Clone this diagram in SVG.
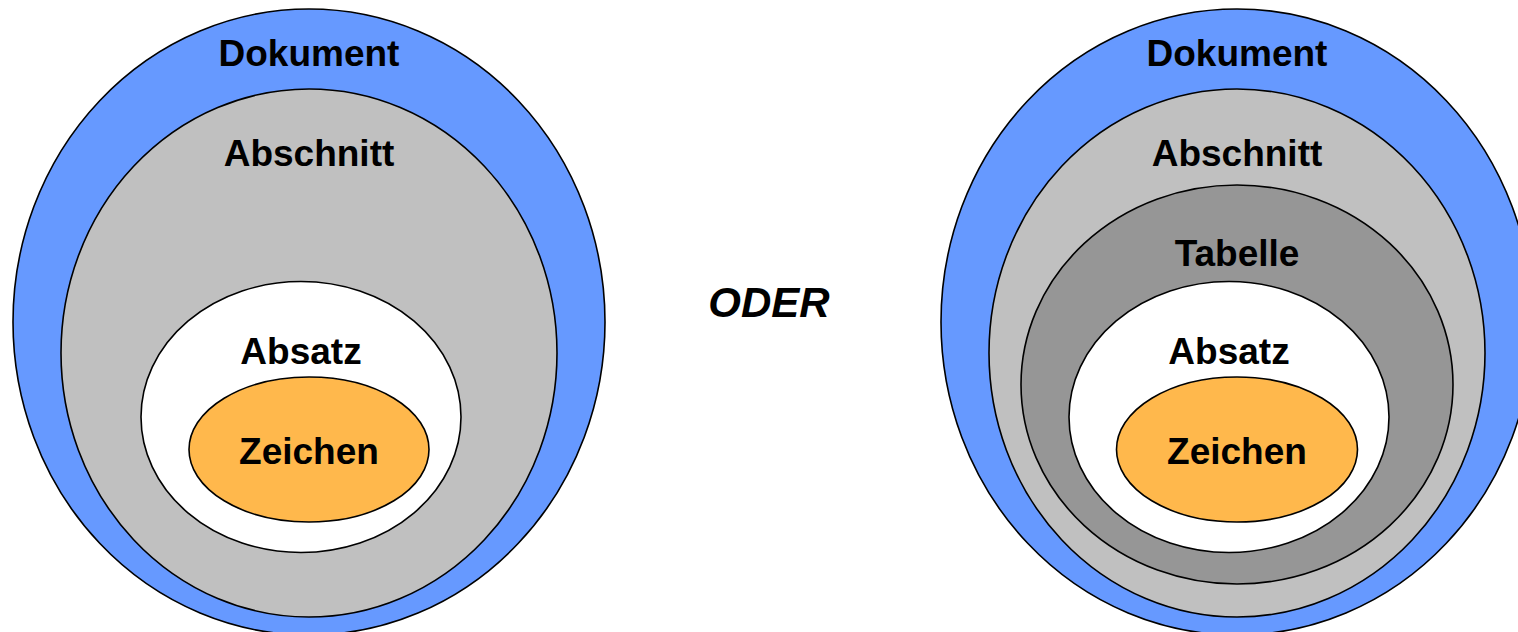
<svg xmlns="http://www.w3.org/2000/svg" width="1518" height="632" viewBox="0 0 1518 632">
  <style>
    .shape { stroke: #000; stroke-width: 1.6; }
    .dok { fill: #6699FF; }
    .abs { fill: #C0C0C0; }
    .tab { fill: #969696; }
    .sat { fill: #FFFFFF; }
    .zei { fill: #FFB84C; }
    .lbl { font-family: "Liberation Sans", Arial, sans-serif; font-weight: bold; font-size: 37px; fill: #000; text-anchor: middle; }
    .oder { font-family: "Liberation Sans", Arial, sans-serif; font-weight: bold; font-style: italic; font-size: 42px; fill: #000; text-anchor: middle; }
  </style>
  <rect width="1518" height="632" fill="#FFFFFF"/>

  <!-- Left diagram -->
  <g id="left-dokument">
    <ellipse class="shape dok" cx="309" cy="322" rx="296" ry="313"/>
    <text class="lbl" x="309" y="66">Dokument</text>
  </g>
  <g id="left-abschnitt">
    <ellipse class="shape abs" cx="309" cy="353" rx="248" ry="264"/>
    <text class="lbl" x="309" y="166">Abschnitt</text>
  </g>
  <g id="left-absatz">
    <ellipse class="shape sat" cx="301" cy="417" rx="160" ry="135.5"/>
    <text class="lbl" x="301" y="364">Absatz</text>
  </g>
  <g id="left-zeichen">
    <ellipse class="shape zei" cx="309" cy="449.5" rx="120" ry="72.5"/>
    <text class="lbl" x="309" y="464">Zeichen</text>
  </g>

  <!-- Middle label -->
  <g id="oder">
    <text class="oder" x="769" y="317">ODER</text>
  </g>

  <!-- Right diagram -->
  <g id="right-dokument">
    <ellipse class="shape dok" cx="1237" cy="322" rx="296" ry="313"/>
    <text class="lbl" x="1237" y="66">Dokument</text>
  </g>
  <g id="right-abschnitt">
    <ellipse class="shape abs" cx="1237" cy="353" rx="248" ry="264"/>
    <text class="lbl" x="1237" y="166">Abschnitt</text>
  </g>
  <g id="right-tabelle">
    <ellipse class="shape tab" cx="1237" cy="384.5" rx="216" ry="199.5"/>
    <text class="lbl" x="1237" y="266">Tabelle</text>
  </g>
  <g id="right-absatz">
    <ellipse class="shape sat" cx="1229" cy="417" rx="160" ry="135.5"/>
    <text class="lbl" x="1229" y="364">Absatz</text>
  </g>
  <g id="right-zeichen">
    <ellipse class="shape zei" cx="1237" cy="449.5" rx="120.5" ry="72.5"/>
    <text class="lbl" x="1237" y="464">Zeichen</text>
  </g>
</svg>
